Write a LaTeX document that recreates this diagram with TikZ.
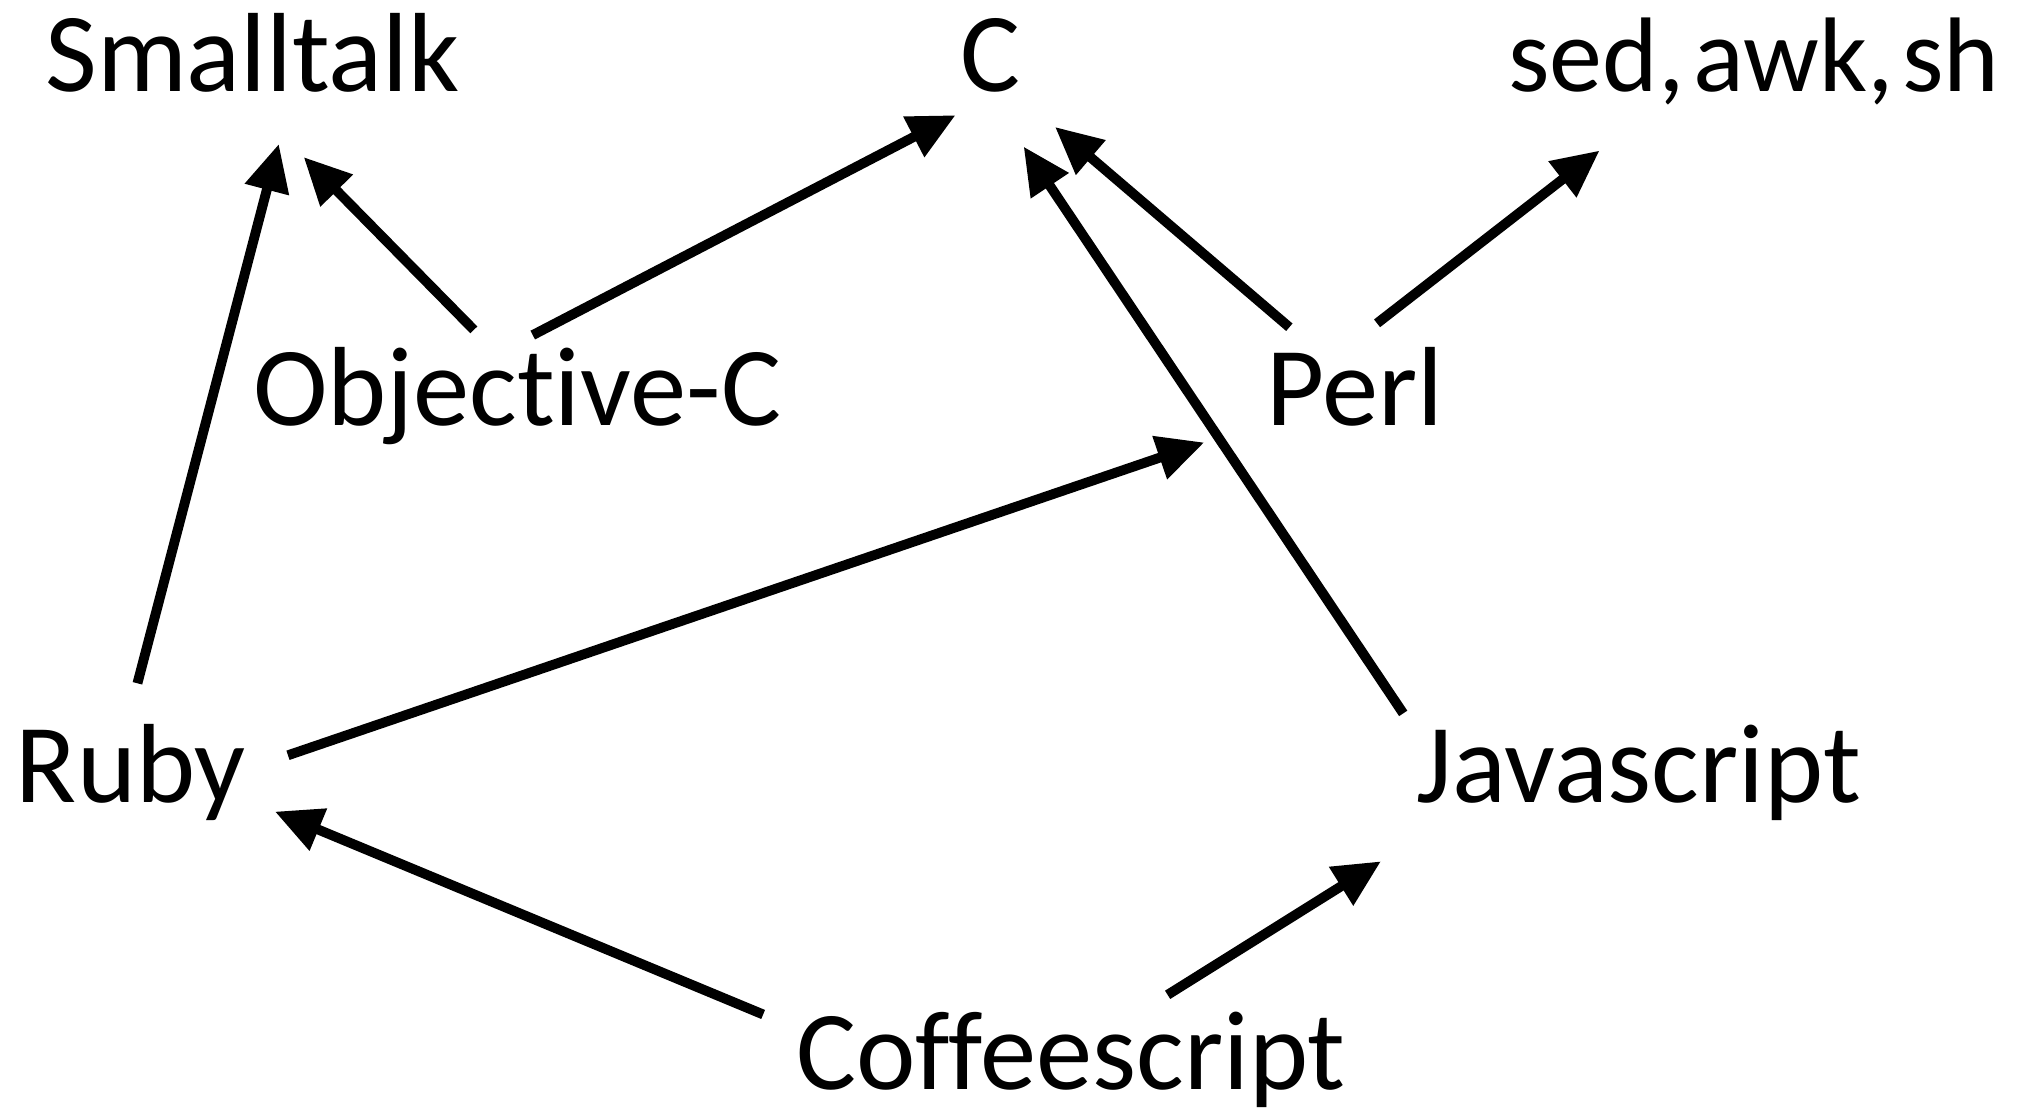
\documentclass[tikz,border=0pt]{standalone}
\usepackage{fontspec}
\setmainfont{Carlito}[Ligatures={NoCommon}]
\usetikzlibrary{arrows.meta,calc}
\begin{document}
\begin{tikzpicture}[x=1pt,y=-1pt,
  lang/.style={anchor=base,inner sep=0pt,font=\fontsize{86}{100}\selectfont},
  arr/.style={line width=7.5pt,-{Triangle[length=36pt,width=33pt]}}]
\useasboundingbox (0,0) rectangle (1560,853);
\node[lang] (smalltalk) at (193,70) {Smalltalk};
\node[lang] (c) at (757,70) {C};
\node[lang,font=\fontsize{81}{100}\selectfont] (sed) at (1340,70) {sed,\hspace{0.08em}awk,\hspace{0.08em}sh};
\node[lang] (objc) at (395,325) {Objective-C};
\node[lang] (perl) at (1035,325) {Perl};
\node[lang] (ruby) at (100,613) {Ruby};
\node[lang] (js) at (1252,613) {Javascript};
\node[lang] (coffee) at (818,832) {Coffeescript};
\draw[arr] ($(ruby.base)+(5,-91)$) -- ($(smalltalk.base)+(20,40)$);
\draw[arr] ($(objc.base)+(-33,-73)$) -- ($(smalltalk.base)+(39,50)$);
\draw[arr] ($(objc.base)+(12,-69)$) -- ($(c.base)+(-27,18)$);
\draw[arr] ($(perl.base)+(-50,-75)$) -- ($(c.base)+(49,27)$);
\draw[arr] ($(js.base)+(-180,-68)$) -- ($(c.base)+(25,42)$);
\draw[arr] ($(perl.base)+(17,-78)$) -- ($(sed.base)+(-118,45)$);
\draw[arr] ($(ruby.base)+(120,-36)$) -- ($(perl.base)+(-115,13)$);
\draw[arr] ($(coffee.base)+(-235,-57)$) -- ($(ruby.base)+(110,7)$);
\draw[arr] ($(coffee.base)+(74,-72)$) -- ($(js.base)+(-197,45)$);
\end{tikzpicture}
\end{document}
